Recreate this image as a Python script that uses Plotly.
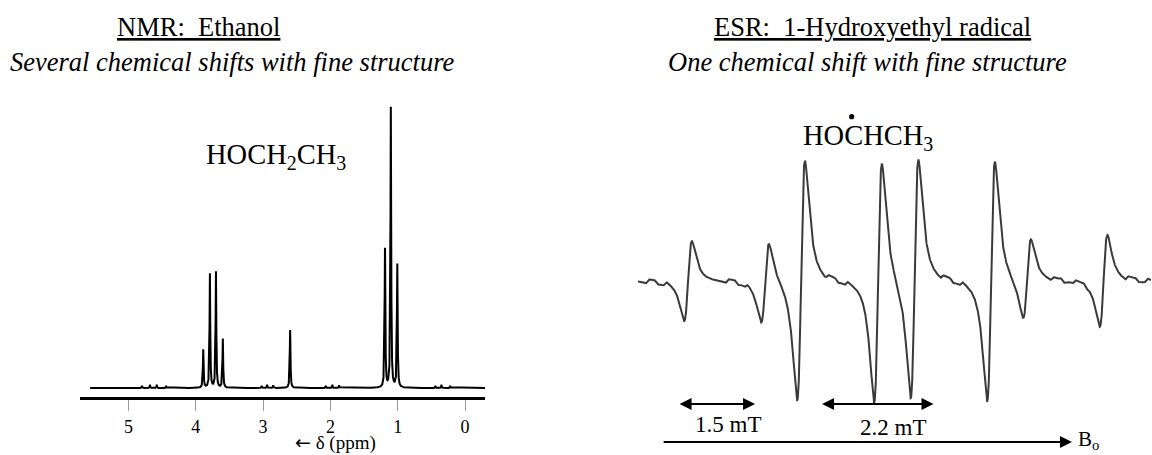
import numpy as np
import plotly.graph_objects as go

# ---------------- NMR: ethanol, 1H spectrum ----------------
# line positions (ppm) and relative heights of the resolved lines
nmr_shift_ppm = [3.889, 3.790, 3.700, 3.598, 2.598, 1.189, 1.102, 1.006]
nmr_height = [0.136, 0.407, 0.414, 0.175, 0.207, 0.496, 1.000, 0.440]
# small spinning sidebands / satellites sitting on the baseline
nmr_minor_ppm = [4.80, 4.68, 4.58, 4.44, 3.02, 2.94, 2.85, 2.07, 1.97, 1.87, 0.44, 0.35, 0.22]
nmr_minor_height = [0.008, 0.012, 0.012, 0.008, 0.008, 0.012, 0.010,
                    0.008, 0.012, 0.010, 0.008, 0.012, 0.008]
nmr_ticks = [5, 4, 3, 2, 1, 0]
nmr_span_ppm = [5.57, -0.297]        # recorded sweep
nmr_axis_ppm = [5.72, -0.297]        # drawn axis (reversed)

# ---------------- ESR: 1-hydroxyethyl radical ----------------
# field offsets (mT) of the eight hyperfine lines and their relative intensities
esr_field_mT = [-4.046, -2.546, -1.845, -0.346, 0.365, 1.855, 2.556, 4.046]
esr_intensity = [1.0, 1.0, 3.0, 3.0, 3.0, 3.0, 1.0, 1.15]
# weak features on the baseline
esr_minor_mT = [-4.84, -4.67, -4.50, -3.29, -3.11, -2.92, -1.34, -1.16, -0.97,
                0.90, 1.08, 1.27, 3.04, 3.24, 3.47, 3.68, 4.50, 4.69, 4.87]
esr_minor_amp = [0.05, -0.045, 0.05, 0.05, -0.05, 0.045, 0.05, -0.045, 0.05,
                 0.05, -0.045, 0.05, 0.045, -0.05, 0.045, -0.045, 0.05, -0.045, 0.045]
esr_span_mT = [-5.02, 4.97]
esr_width_mT = 0.13          # Lorentzian half width
esr_minor_width_mT = 0.06
hfs_alpha_mT = 1.5
hfs_methyl_mT = 2.2


def lorentz(x, x0, gamma):
    return 1.0 / (1.0 + ((x - x0) / gamma) ** 2)


def lorentz_deriv(x, x0, gamma):
    u = (x - x0) / gamma
    return (u / (1.0 + u * u) ** 2) / 0.32476  # unit peak amplitude


# NMR trace: dense grid plus every line centre so the maxima are sampled
nmr_x = np.union1d(np.linspace(nmr_span_ppm[1], nmr_span_ppm[0], 12000),
                   np.array(nmr_shift_ppm + nmr_minor_ppm))
nmr_y = np.zeros_like(nmr_x)
for p, h in zip(nmr_shift_ppm, nmr_height):
    nmr_y += h * lorentz(nmr_x, p, 0.006)
for p, h in zip(nmr_minor_ppm, nmr_minor_height):
    nmr_y += h * lorentz(nmr_x, p, 0.004)

# ESR first-derivative trace
esr_x = np.linspace(esr_span_mT[0], esr_span_mT[1], 6000)
esr_y = np.zeros_like(esr_x)
for b, a in zip(esr_field_mT, esr_intensity):
    esr_y += a * lorentz_deriv(esr_x, b, esr_width_mT)
for b, a in zip(esr_minor_mT, esr_minor_amp):
    esr_y += a * lorentz_deriv(esr_x, b, esr_minor_width_mT)

W, H = 1152, 455


def fx(px):
    return px / W


def fy(px):
    return 1 - px / H


SERIF = "Liberation Serif"

fig = go.Figure()
fig.add_trace(go.Scatter(x=nmr_x, y=nmr_y, mode="lines",
                         line=dict(color="black", width=2),
                         xaxis="x", yaxis="y", hoverinfo="skip", showlegend=False))
fig.add_trace(go.Scatter(x=esr_x, y=esr_y, mode="lines",
                         line=dict(color="#3a3a3a", width=2),
                         xaxis="x2", yaxis="y2", hoverinfo="skip", showlegend=False))

# NMR baseline sits 9 px above the axis; tallest line 280 px high
nmr_unit_px = 280.0
nmr_top_px, nmr_bot_px, nmr_base_px = 100, 397, 388
nmr_yrange = [-(nmr_bot_px - nmr_base_px) / nmr_unit_px, (nmr_base_px - nmr_top_px) / nmr_unit_px]

esr_unit_px = 40.0
esr_top_px, esr_bot_px, esr_base_px = 150, 410, 281
esr_yrange = [-(esr_bot_px - esr_base_px) / esr_unit_px, (esr_base_px - esr_top_px) / esr_unit_px]

fig.update_layout(
    width=W, height=H,
    margin=dict(l=0, r=0, t=0, b=0),
    paper_bgcolor="white", plot_bgcolor="white",
    showlegend=False,
    xaxis=dict(domain=[fx(80), fx(485)], range=nmr_axis_ppm, anchor="y",
               showline=True, linewidth=3, linecolor="black",
               ticks="outside", ticklen=11, tickwidth=1, tickcolor="#999999",
               tickmode="array", tickvals=nmr_ticks, ticktext=[str(t) for t in nmr_ticks],
               tickfont=dict(family=SERIF, size=18, color="black"),
               showgrid=False, zeroline=False, fixedrange=True),
    yaxis=dict(domain=[fy(nmr_bot_px), fy(nmr_top_px)], range=nmr_yrange, anchor="x",
               visible=False, fixedrange=True),
    xaxis2=dict(domain=[fx(638), fx(1151)], range=esr_span_mT, anchor="y2",
                visible=False, fixedrange=True),
    yaxis2=dict(domain=[fy(esr_bot_px), fy(esr_top_px)], range=esr_yrange, anchor="x2",
                visible=False, fixedrange=True),
)

ann = []


def text(x, y, s, size, xanchor="center", yanchor="middle", pad=1):
    ann.append(dict(x=fx(x), y=fy(y), xref="paper", yref="paper", text=s,
                    showarrow=False, xanchor=xanchor, yanchor=yanchor, borderpad=pad,
                    font=dict(family=SERIF, size=size, color="black")))


# headings
text(198.5, 27, "<u>NMR:\u00a0 Ethanol</u>", 26.5)
text(232.5, 62, "<i>Several chemical shifts with fine structure</i>", 26.5)
text(872.5, 27, "<u>ESR:\u00a0 1-Hydroxyethyl radical</u>", 26.5)
text(867.5, 62, "<i>One chemical shift with fine structure</i>", 26.5)

# molecule labels
text(204, 156, "HOCH<sub>2</sub>CH<sub>3</sub>", 28.5, xanchor="left")
text(801, 137, "HOCHCH<sub>3</sub>", 28.5, xanchor="left")

# NMR axis caption
text(335, 455, "<span style=\"font-family:DejaVu Sans\">\u2190</span> \u03b4 (ppm)", 19,
     yanchor="bottom", pad=0)

# ESR scale labels
text(728, 424, "1.5 mT", 23)
text(893, 427, "2.2 mT", 23)
text(1076, 440, "B<sub>o</sub>", 21, xanchor="left")


def arrow(x0, x1, ypx, both):
    ann.append(dict(x=x1, y=fy(ypx), xref="x2", yref="paper",
                    ax=x0, ay=0, axref="x2", ayref="pixel",
                    text="", showarrow=True,
                    arrowhead=2, startarrowhead=2,
                    arrowside="end+start" if both else "end",
                    arrowsize=1.2, startarrowsize=1.2, arrowwidth=2,
                    arrowcolor="black", standoff=0, startstandoff=0))


a_center = -3.49
arrow(a_center - hfs_alpha_mT / 2, a_center + hfs_alpha_mT / 2, 404, True)
m_center = -0.365
arrow(m_center - hfs_methyl_mT / 2, m_center + hfs_methyl_mT / 2, 404, True)
arrow(-4.55, 3.43, 442, False)

# radical dot above the carbon of HOCHCH3
dot_cx, dot_cy, dot_r = 851.7, 116.7, 2.6
shapes = [dict(type="circle", xref="paper", yref="paper",
               x0=fx(dot_cx - dot_r), x1=fx(dot_cx + dot_r),
               y0=fy(dot_cy + dot_r), y1=fy(dot_cy - dot_r),
               fillcolor="black", line=dict(width=0))]

fig.update_layout(annotations=ann, shapes=shapes)

fig.write_html("out.html")
